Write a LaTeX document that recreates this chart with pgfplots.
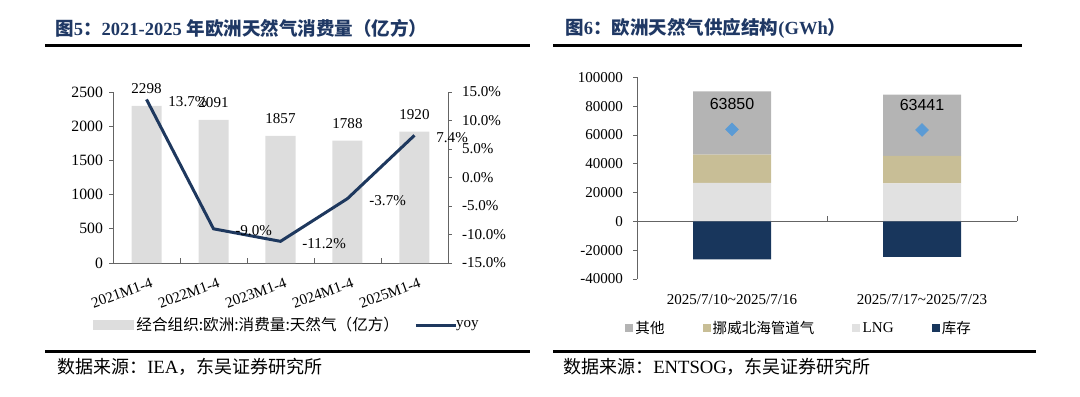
\documentclass[border=0pt]{standalone}
\usepackage{fontspec}
\setmainfont{Liberation Serif}
\newfontfamily\zh{Noto Sans CJK SC}
\newfontfamily\sansf{Liberation Sans}
\usepackage{pgfplots}
\pgfplotsset{compat=1.18}
\definecolor{titlec}{RGB}{31,56,100}
\definecolor{barc}{RGB}{221,221,221}
\definecolor{linec}{RGB}{30,56,94}
\definecolor{qita}{RGB}{180,180,180}
\definecolor{nuo}{RGB}{200,190,150}
\definecolor{lng}{RGB}{225,225,225}
\definecolor{kuc}{RGB}{24,54,92}
\definecolor{diac}{RGB}{91,155,213}
\definecolor{axc}{RGB}{100,100,100}
\newcommand\lat{\fontsize{11.3}{13}\selectfont}
\newcommand\zhl{\fontsize{11.7}{13}\selectfont\zh}
\newcommand\zhr{\fontsize{10.9}{13}\selectfont\zh}
\pgfplotsset{
  /pgf/number format/assume math mode=true,
  /pgf/number format/1000 sep={},
}
\begin{document}
\begin{tikzpicture}[x=0.75pt,y=-0.75pt]
\useasboundingbox (0,0) rectangle (1080,396);
\coordinate (LA) at (113,263);
\coordinate (RA) at (637,279);
% titles
\node[anchor=west,inner sep=0pt,text=titlec,font=\fontsize{13.9}{16}\selectfont\bfseries] at (55,28) {{\zh 图}5{\zh ：}2021-2025 {\zh 年欧洲天然气消费量（亿方）}};
\node[anchor=west,inner sep=0pt,text=titlec,font=\fontsize{13.9}{16}\selectfont\bfseries] at (565,28) {{\zh 图}6{\zh ：欧洲天然气供应结构}(GWh{\zh ）}};
\draw[line width=1.6pt] (45,45.5) -- (530,45.5);
\draw[line width=1.6pt] (553,45.5) -- (1022,45.5);
\draw[line width=1.6pt] (45,351.5) -- (530,351.5);
\draw[line width=1.6pt] (553,351.5) -- (1036,351.5);
\node[anchor=west,inner sep=0pt,font=\fontsize{14}{16}\selectfont] at (57,367) {{\fontsize{13.5}{16}\selectfont\zh 数据来源：}IEA{\fontsize{13.5}{16}\selectfont\zh ，东吴证券研究所}};
\node[anchor=west,inner sep=0pt,font=\fontsize{14}{16}\selectfont] at (563,367) {{\fontsize{13.5}{16}\selectfont\zh 数据来源：}ENTSOG{\fontsize{13.5}{16}\selectfont\zh ，东吴证券研究所}};

% ---------- left: bars ----------
\begin{axis}[
  at={(LA)}, anchor=south west, scale only axis,
  width=251.25pt, height=128.25pt,
  xmin=-0.5, xmax=4.5, ymin=0, ymax=2500,
  axis x line*=bottom, axis y line*=left,
  axis line style={axc, line width=0.6pt},
  tick style={axc, line width=0.6pt},
  tick align=outside, major tick length=3pt, minor tick length=3.5pt,
  xtick={0,1,2,3,4},
  xticklabels={2021M1-4,2022M1-4,2023M1-4,2024M1-4,2025M1-4},
  major x tick style={draw=none},
  minor xtick={0.5,1.5,2.5,3.5},
  minor x tick style={yshift=3.5pt},
  ytick={0,500,1000,1500,2000,2500},
  tick label style={font=\lat, text=black},
  xticklabel style={rotate=20, anchor=north east, inner sep=0pt, yshift=-8pt},
  yticklabel style={font=\fontsize{11.8}{13}\selectfont, xshift=-1pt},
  clip=false,
]
\addplot[ybar, bar width=22.5pt, fill=barc, draw=none,
  nodes near coords, nodes near coords style={font=\lat, text=black, anchor=south, inner sep=0pt, yshift=9pt}]
  coordinates {(0,2298) (1,2091) (2,1857) (3,1788) (4,1920)};
\end{axis}

% ---------- left: yoy line ----------
\begin{axis}[
  at={(LA)}, anchor=south west, scale only axis,
  width=251.25pt, height=128.25pt,
  xmin=-0.5, xmax=4.5, ymin=-15, ymax=15,
  axis x line=none, axis y line*=right,
  axis line style={axc, line width=0.6pt},
  tick style={axc, line width=0.6pt},
  tick align=outside, major tick length=3pt,
  ytick={-15,-10,-5,0,5,10,15},
  yticklabel={\pgfmathprintnumber[fixed,fixed zerofill,precision=1]{\tick}\%},
  tick label style={font=\lat, text=black},
  yticklabel style={xshift=4pt},
  clip=false,
  legend style={at={(axis description cs:-0.0597,-0.3626)}, anchor=west,
    draw=none, fill=none, inner sep=0pt, legend columns=2, font=\lat,
    /tikz/every even column/.append style={column sep=9.5pt}},
  legend cell align=left,
]
\addlegendimage{legend image code/.code={\fill[barc] (0pt,-3.5pt) rectangle (30pt,3.5pt);}}
\addlegendentry{\zhl 经合组织:欧洲:消费量:天然气（亿方）}
\addplot[linec, line width=2.25pt, mark=none,
  legend image code/.code={\draw[linec,line width=2.25pt] (0pt,0pt) -- (30pt,0pt);},
  nodes near coords={\pgfmathprintnumber[fixed,fixed zerofill,precision=1]{\pgfplotspointmeta}\%},
  nodes near coords style={font=\lat, text=black, anchor=west, xshift=12pt, yshift=-1.5pt}]
  coordinates {(0,13.7) (1,-9.0) (2,-11.2) (3,-3.7) (4,7.4)};
\addlegendentry{\hspace{-3pt}yoy}
\end{axis}

% ---------- right: stacked positives ----------
\begin{axis}[
  at={(RA)}, anchor=south west, scale only axis,
  width=285pt, height=151.3pt,
  xmin=-0.5, xmax=1.5, ymin=-40000, ymax=100000,
  axis x line*=middle, axis y line*=left,
  axis line style={axc, line width=0.6pt},
  tick style={axc, line width=0.6pt},
  tick align=outside, major tick length=3pt, minor tick length=3.75pt,
  hide obscured x ticks=false, hide obscured y ticks=false,
  xtick={0,1},
  xticklabels={2025/7/10\textasciitilde 2025/7/16, 2025/7/17\textasciitilde 2025/7/23},
  major x tick style={draw=none},
  minor xtick={0.5,1.5},
  minor x tick style={yshift=3.75pt},
  ytick={-40000,-20000,0,20000,40000,60000,80000,100000},
  scaled y ticks=false,
  yticklabel style={/pgf/number format/fixed, xshift=-4pt},
  tick label style={font=\lat, text=black},
  xticklabel style={anchor=north, inner sep=0pt, yshift=-52pt},
  ybar stacked, bar width=58.5pt,
  clip=false,
  legend style={at={(axis description cs:-0.0316,-0.243)}, anchor=west,
    draw=none, fill=none, inner sep=0pt, legend columns=4, font=\lat,
    /tikz/every even column/.append style={column sep=26.5pt}},
  legend cell align=left,
]
\addlegendimage{legend image code/.code={\fill[qita] (0pt,-2.6pt) rectangle (5.25pt,2.6pt);}}
\addlegendentry{\zhr 其他}
\addlegendimage{legend image code/.code={\fill[nuo] (0pt,-2.6pt) rectangle (5.25pt,2.6pt);}}
\addlegendentry{\zhr 挪威北海管道气}
\addlegendimage{legend image code/.code={\fill[lng] (0pt,-2.6pt) rectangle (5.25pt,2.6pt);}}
\addlegendentry{LNG}
\addlegendimage{legend image code/.code={\fill[kuc] (0pt,-2.6pt) rectangle (5.25pt,2.6pt);}}
\addlegendentry{\zhr 库存}
\addplot[fill=lng, draw=none, forget plot] coordinates {(0,26700) (1,26300)};
\addplot[fill=nuo, draw=none, forget plot] coordinates {(0,19700) (1,19200)};
\addplot[fill=qita, draw=none, forget plot] coordinates {(0,43850) (1,42540)};
\end{axis}

% ---------- right: storage + totals ----------
\begin{axis}[
  at={(RA)}, anchor=south west, scale only axis,
  width=285pt, height=151.3pt,
  xmin=-0.5, xmax=1.5, ymin=-40000, ymax=100000,
  hide axis, clip=false,
]
\addplot[ybar, bar width=58.5pt, fill=kuc, draw=none] coordinates {(0,-26400) (1,-24600)};
\addplot[only marks, mark=square*, mark size=3.4pt, mark options={rotate=45}, color=diac,
  nodes near coords, nodes near coords style={font=\sansf\fontsize{12}{14}\selectfont, text=black, anchor=center, yshift=18.75pt}]
  coordinates {(0,63850) (1,63441)};
\end{axis}
\end{tikzpicture}
\end{document}
